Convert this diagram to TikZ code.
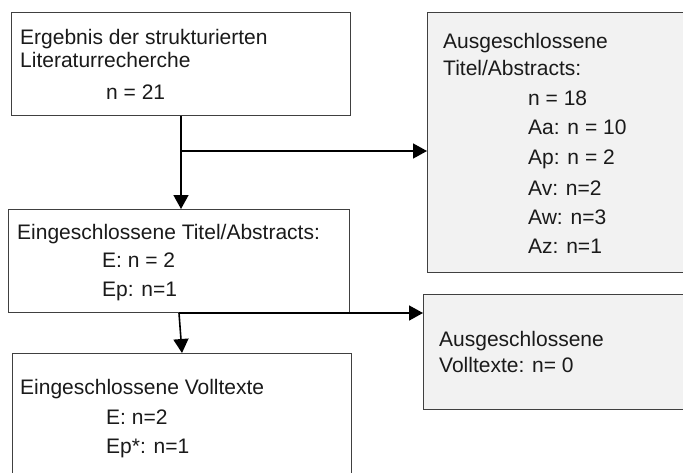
\documentclass[tikz,border=0pt]{standalone}
\usepackage{fontspec}
\setmainfont{Liberation Sans}
\usetikzlibrary{arrows.meta}
\definecolor{boxline}{HTML}{404040}
\definecolor{boxfill}{HTML}{F2F2F2}
\definecolor{ink}{HTML}{1A1A1A}
\begin{document}
\begin{tikzpicture}[x=1pt,y=-1pt,
  box/.style={draw=boxline, line width=1pt, inner sep=0pt, anchor=north west, fill=white},
  graybox/.style={box, fill=boxfill},
  txt/.style={anchor=base west, inner sep=0pt, font=\fontsize{21}{25}\selectfont, text=ink},
  flow/.style={draw=black, line width=1.6pt, -{Triangle[width=15pt,length=14pt]}},
  branch/.style={draw=black, line width=1.6pt}
]
\useasboundingbox (0,0) rectangle (683,472);
\clip (0,0) rectangle (683,472);

% boxes
\node[box, minimum width=339pt, minimum height=103pt] (b1) at (11,12) {};
\node[graybox, minimum width=270pt, minimum height=260pt] (b2) at (427,12) {};
\node[box, minimum width=341pt, minimum height=103pt] (b3) at (8,209) {};
\node[graybox, minimum width=270pt, minimum height=115pt] (b4) at (423,294) {};
\node[box, minimum width=339pt, minimum height=140pt] (b5) at (12,353) {};

% texts of the first box
\node[txt] (t1a) at (20,44) {Ergebnis der strukturierten};
\node[txt] (t1b) at (20,67) {Literaturrecherche};
\node[txt] (t1c) at (106,99) {n = 21};

% excluded titles / abstracts
\node[txt] (t2a) at (443,48) {Ausgeschlossene};
\node[txt] (t2b) at (443,75) {Titel/Abstracts:};
\node[txt] (t2c) at (528,105) {n = 18};
\node[txt] (t2d) at (528,134) {Aa: n = 10};
\node[txt] (t2e) at (528,164) {Ap: n = 2};
\node[txt] (t2f) at (528,195) {Av: n=2};
\node[txt] (t2g) at (528,224) {Aw: n=3};
\node[txt] (t2h) at (528,253) {Az: n=1};

% included titles / abstracts
\node[txt] (t3a) at (17,239) {Eingeschlossene Titel/Abstracts:};
\node[txt] (t3b) at (102,267) {E: n = 2};
\node[txt] (t3c) at (102,296) {Ep: n=1};

% excluded full texts
\node[txt] (t4a) at (439,346) {Ausgeschlossene};
\node[txt] (t4b) at (439,372) {Volltexte: n= 0};

% included full texts
\node[txt] (t5a) at (20,394) {Eingeschlossene Volltexte};
\node[txt] (t5b) at (106,424) {E: n=2};
\node[txt] (t5c) at (106,453) {Ep*: n=1};

% connectors
\coordinate (j1) at ([yshift=-35pt]b1.south);
\draw[flow] (b1.south) -- (b1.south |- b3.north);
\draw[flow] (j1) -- (j1 -| b2.west);
\draw[flow] (b3.south) -- (b5.north);
\draw[flow] (b3.south) -- (b3.south -| b4.west);
\end{tikzpicture}
\end{document}
